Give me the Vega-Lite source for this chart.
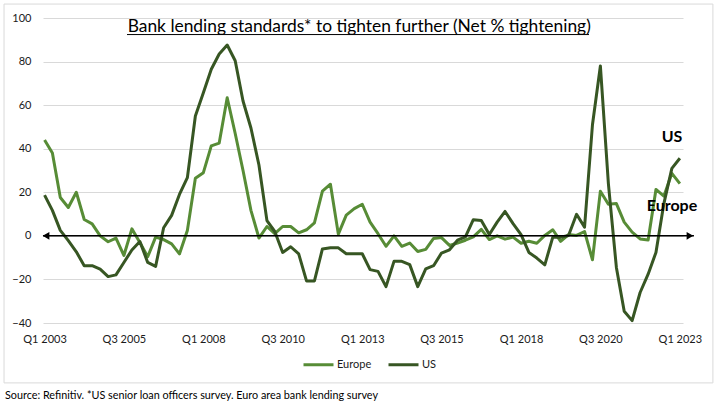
{
  "$schema": "https://vega.github.io/schema/vega-lite/v6.json",
  "width": 640,
  "height": 305,
  "autosize": {"type": "none"},
  "padding": {"left": 43, "top": 18, "right": 34, "bottom": 81},
  "background": "white",
  "config": {"view": {"stroke": null}, "font": "Lato"},
  "data": {"values": [
    {"date": "2003-01-01", "Europe": 44, "US": 18.7},
    {"date": "2003-04-01", "Europe": 38, "US": 11.7},
    {"date": "2003-07-01", "Europe": 17.6, "US": 2.5},
    {"date": "2003-10-01", "Europe": 13, "US": -2.2},
    {"date": "2004-01-01", "Europe": 20, "US": -7.3},
    {"date": "2004-04-01", "Europe": 7.5, "US": -13.7},
    {"date": "2004-07-01", "Europe": 5.5, "US": -13.7},
    {"date": "2004-10-01", "Europe": 0, "US": -15.3},
    {"date": "2005-01-01", "Europe": -2.7, "US": -18.7},
    {"date": "2005-04-01", "Europe": -1, "US": -17.9},
    {"date": "2005-07-01", "Europe": -9, "US": -12.2},
    {"date": "2005-10-01", "Europe": 3.2, "US": -6.5},
    {"date": "2006-01-01", "Europe": -3, "US": -2.6},
    {"date": "2006-04-01", "Europe": -9.6, "US": -12.2},
    {"date": "2006-07-01", "Europe": -0.6, "US": -14},
    {"date": "2006-10-01", "Europe": -1.7, "US": 3.7},
    {"date": "2007-01-01", "Europe": -3.7, "US": 9.4},
    {"date": "2007-04-01", "Europe": -8.3, "US": 19},
    {"date": "2007-07-01", "Europe": 2.5, "US": 26.7},
    {"date": "2007-10-01", "Europe": 26.4, "US": 55},
    {"date": "2008-01-01", "Europe": 29, "US": 65.7},
    {"date": "2008-04-01", "Europe": 41.3, "US": 76.5},
    {"date": "2008-07-01", "Europe": 42.6, "US": 83.5},
    {"date": "2008-10-01", "Europe": 63.4, "US": 87.6},
    {"date": "2009-01-01", "Europe": 47, "US": 80.4},
    {"date": "2009-04-01", "Europe": 30, "US": 61.9},
    {"date": "2009-07-01", "Europe": 11.7, "US": 49.5},
    {"date": "2009-10-01", "Europe": -1, "US": 32.5},
    {"date": "2010-01-01", "Europe": 4.3, "US": 7},
    {"date": "2010-04-01", "Europe": 1, "US": 2},
    {"date": "2010-07-01", "Europe": 4.3, "US": -7.6},
    {"date": "2010-10-01", "Europe": 4.3, "US": -5},
    {"date": "2011-01-01", "Europe": 1.4, "US": -8.3},
    {"date": "2011-04-01", "Europe": 2.8, "US": -20.7},
    {"date": "2011-07-01", "Europe": 6, "US": -20.7},
    {"date": "2011-10-01", "Europe": 20.5, "US": -6},
    {"date": "2012-01-01", "Europe": 23.7, "US": -5.5},
    {"date": "2012-04-01", "Europe": 0.8, "US": -5.5},
    {"date": "2012-07-01", "Europe": 9.5, "US": -8.2},
    {"date": "2012-10-01", "Europe": 12.5, "US": -8.2},
    {"date": "2013-01-01", "Europe": 14.5, "US": -8.2},
    {"date": "2013-04-01", "Europe": 6.3, "US": -15.5},
    {"date": "2013-07-01", "Europe": 1, "US": -16.3},
    {"date": "2013-10-01", "Europe": -4.8, "US": -23.3},
    {"date": "2014-01-01", "Europe": 0, "US": -11.7},
    {"date": "2014-04-01", "Europe": -4.8, "US": -11.7},
    {"date": "2014-07-01", "Europe": -3.3, "US": -13.2},
    {"date": "2014-10-01", "Europe": -7.2, "US": -23.3},
    {"date": "2015-01-01", "Europe": -6.2, "US": -15.2},
    {"date": "2015-04-01", "Europe": -1.2, "US": -13.7},
    {"date": "2015-07-01", "Europe": -0.8, "US": -7.9},
    {"date": "2015-10-01", "Europe": -4.4, "US": -6.4},
    {"date": "2016-01-01", "Europe": -3.3, "US": -2},
    {"date": "2016-04-01", "Europe": -2, "US": -0.5},
    {"date": "2016-07-01", "Europe": -0.5, "US": 7.4},
    {"date": "2016-10-01", "Europe": 3, "US": 7},
    {"date": "2017-01-01", "Europe": -1.7, "US": 0.6},
    {"date": "2017-04-01", "Europe": 0, "US": 6.3},
    {"date": "2017-07-01", "Europe": -1.5, "US": 11.2},
    {"date": "2017-10-01", "Europe": -0.6, "US": 5.6},
    {"date": "2018-01-01", "Europe": -3.4, "US": 0.6},
    {"date": "2018-04-01", "Europe": -2.5, "US": -7.6},
    {"date": "2018-07-01", "Europe": -3.4, "US": -10.2},
    {"date": "2018-10-01", "Europe": 0.2, "US": -13.3},
    {"date": "2019-01-01", "Europe": 2.8, "US": -0.6},
    {"date": "2019-04-01", "Europe": -2.5, "US": -0.6},
    {"date": "2019-07-01", "Europe": 0.6, "US": 0.2},
    {"date": "2019-10-01", "Europe": 0.2, "US": 9.9},
    {"date": "2020-01-01", "Europe": 2, "US": 4},
    {"date": "2020-04-01", "Europe": -11, "US": 51},
    {"date": "2020-07-01", "Europe": 20.5, "US": 78},
    {"date": "2020-10-01", "Europe": 14.5, "US": 24},
    {"date": "2021-01-01", "Europe": 14.8, "US": -14.5},
    {"date": "2021-04-01", "Europe": 6.3, "US": -34.6},
    {"date": "2021-07-01", "Europe": 1.7, "US": -38.9},
    {"date": "2021-10-01", "Europe": -1.4, "US": -26},
    {"date": "2022-01-01", "Europe": -1.9, "US": -17.6},
    {"date": "2022-04-01", "Europe": 21.3, "US": -7.6},
    {"date": "2022-07-01", "Europe": 18.2, "US": 14.8},
    {"date": "2022-10-01", "Europe": 28.7, "US": 31},
    {"date": "2023-01-01", "Europe": 24, "US": 35.6}
  ]},
  "layer": [
    {
      "data": {"values": [{}]},
      "mark": {"type": "rect", "fill": "transparent", "stroke": "#D9D9D9", "strokeWidth": 1},
      "encoding": {
        "x": {"datum": {"year": 2001, "month": 9, "date": 22, "utc": true}, "type": "temporal"},
        "x2": {"datum": {"year": 2024, "month": 1, "date": 16, "utc": true}},
        "y": {"datum": 106.4, "type": "quantitative"},
        "y2": {"datum": -67.5}
      }
    },
    {
      "transform": [{"fold": ["Europe", "US"], "as": ["series", "value"]}],
      "mark": {"type": "line", "strokeWidth": 3, "strokeJoin": "round"},
      "encoding": {
        "x": {
          "field": "date", "type": "temporal",
          "scale": {"domain": [{"year": 2002, "month": 12, "date": 14, "utc": true}, {"year": 2023, "month": 2, "date": 6, "utc": true}], "nice": false},
          "axis": {
            "values": [
              {"year": 2003, "month": 1, "date": 1, "utc": true},
              {"year": 2005, "month": 7, "date": 1, "utc": true},
              {"year": 2008, "month": 1, "date": 1, "utc": true},
              {"year": 2010, "month": 7, "date": 1, "utc": true},
              {"year": 2013, "month": 1, "date": 1, "utc": true},
              {"year": 2015, "month": 7, "date": 1, "utc": true},
              {"year": 2018, "month": 1, "date": 1, "utc": true},
              {"year": 2020, "month": 7, "date": 1, "utc": true},
              {"year": 2023, "month": 1, "date": 1, "utc": true}
            ],
            "labelExpr": "'Q' + utcquarter(datum.value) + ' ' + utcyear(datum.value)",
            "title": null, "grid": false, "ticks": false, "domain": false,
            "labelFlush": false, "labelOverlap": false,
            "labelFontSize": 11, "labelPadding": 10, "labelColor": "#1a1a1a", "labelFont": "Lato"
          }
        },
        "y": {
          "field": "value", "type": "quantitative",
          "scale": {"domain": [-40, 100], "nice": false, "zero": false},
          "axis": {
            "values": [-40, -20, 0, 20, 40, 60, 80, 100],
            "title": null, "grid": true, "gridColor": "#D9D9D9", "gridWidth": 1,
            "ticks": false, "domain": false, "labelFlush": false,
            "labelFontSize": 11, "labelPadding": 12, "labelColor": "#1a1a1a", "labelFont": "Lato"
          }
        },
        "color": {
          "field": "series", "type": "nominal",
          "scale": {"domain": ["Europe", "US"], "range": ["#578C36", "#375623"]},
          "legend": {
            "title": null, "orient": "none", "legendX": 259, "legendY": 330,
            "direction": "horizontal", "symbolType": "stroke", "symbolSize": 900,
            "symbolStrokeWidth": 3, "labelFontSize": 11, "labelOffset": 2,
            "columnPadding": 10, "labelFont": "Lato", "labelColor": "#1a1a1a"
          }
        }
      }
    },
    {
      "data": {"values": [{}]},
      "mark": {"type": "rule", "color": "black", "strokeWidth": 1.5},
      "encoding": {
        "x": {"datum": {"year": 2002, "month": 12, "date": 14, "utc": true}, "type": "temporal"},
        "x2": {"datum": {"year": 2023, "month": 6, "date": 12, "utc": true}},
        "y": {"datum": 0, "type": "quantitative"}
      }
    },
    {
      "data": {"values": [{}]},
      "mark": {"type": "point", "shape": "triangle-left", "filled": true, "color": "black", "opacity": 1, "size": 60},
      "encoding": {
        "x": {"datum": {"year": 2003, "month": 1, "date": 18, "utc": true}, "type": "temporal"},
        "y": {"datum": 0, "type": "quantitative"}
      }
    },
    {
      "data": {"values": [{}]},
      "mark": {"type": "point", "shape": "triangle-right", "filled": true, "color": "black", "opacity": 1, "size": 60},
      "encoding": {
        "x": {"datum": {"year": 2023, "month": 4, "date": 27, "utc": true}, "type": "temporal"},
        "y": {"datum": 0, "type": "quantitative"}
      }
    },
    {
      "data": {"values": [{}]},
      "mark": {"type": "text", "text": "US", "font": "Lato", "fontSize": 16, "fontWeight": "bold", "align": "center", "baseline": "middle", "color": "black"},
      "encoding": {
        "x": {"datum": {"year": 2022, "month": 10, "date": 2, "utc": true}, "type": "temporal"},
        "y": {"datum": 45.4, "type": "quantitative"}
      }
    },
    {
      "data": {"values": [{}]},
      "mark": {"type": "text", "text": "Europe", "font": "Lato", "fontSize": 16, "fontWeight": "bold", "align": "center", "baseline": "middle", "color": "black"},
      "encoding": {
        "x": {"datum": {"year": 2022, "month": 10, "date": 2, "utc": true}, "type": "temporal"},
        "y": {"datum": 13.7, "type": "quantitative"}
      }
    },
    {
      "data": {"values": [{}]},
      "mark": {"type": "text", "text": "Bank lending standards* to tighten further (Net % tightening)", "font": "Lato", "fontSize": 17.4, "align": "center", "baseline": "middle", "color": "black"},
      "encoding": {
        "x": {"datum": {"year": 2012, "month": 11, "date": 27, "utc": true}, "type": "temporal"},
        "y": {"datum": 95.8, "type": "quantitative"}
      }
    },
    {
      "data": {"values": [{}]},
      "mark": {"type": "rule", "color": "black", "strokeWidth": 1},
      "encoding": {
        "x": {"datum": {"year": 2005, "month": 8, "date": 6, "utc": true}, "type": "temporal"},
        "x2": {"datum": {"year": 2020, "month": 2, "date": 21, "utc": true}},
        "y": {"datum": 92.4, "type": "quantitative"}
      }
    },
    {
      "data": {"values": [{}]},
      "mark": {"type": "text", "text": "Source: Refinitiv. *US senior loan officers survey. Euro area bank lending survey", "font": "'Liberation Sans Narrow', Lato", "fontSize": 10.8, "align": "left", "baseline": "middle", "color": "black"},
      "encoding": {
        "x": {"datum": {"year": 2001, "month": 10, "date": 3, "utc": true}, "type": "temporal"},
        "y": {"datum": -73.5, "type": "quantitative"}
      }
    }
  ]
}
